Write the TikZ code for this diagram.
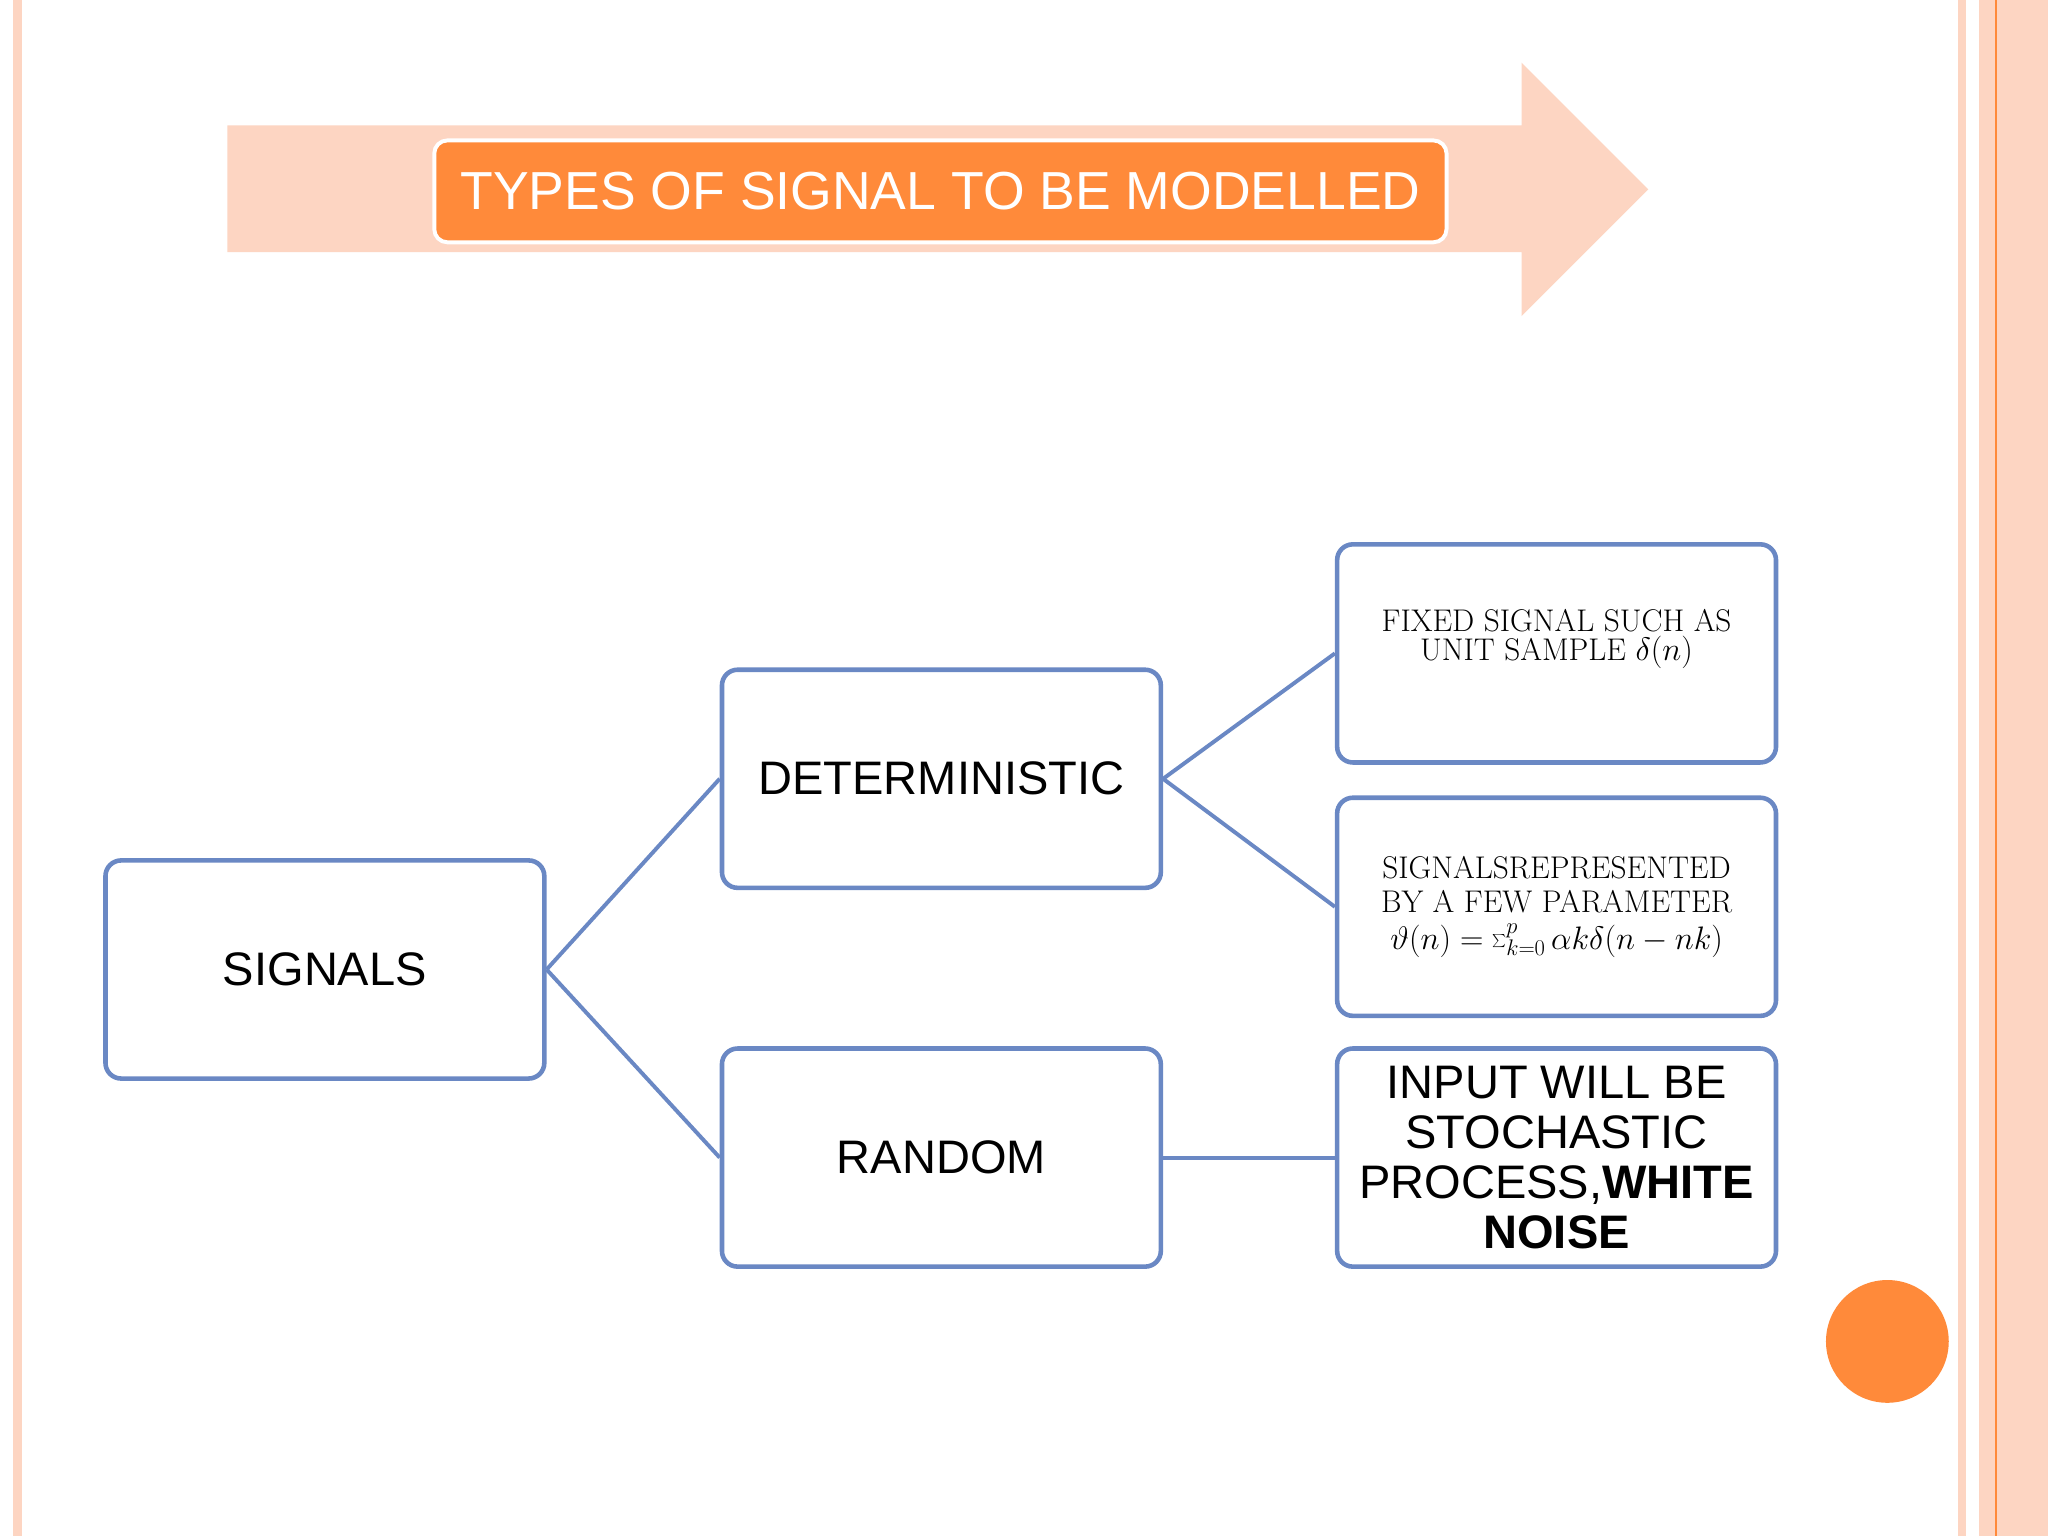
\documentclass[tikz,border=0pt]{standalone}
\usepackage{fontspec}
\setmainfont{Liberation Sans}
\newfontfamily\lmr{Latin Modern Roman}
\definecolor{peach}{HTML}{FDD5C2}
\definecolor{org}{HTML}{FF8A3A}
\definecolor{bl}{HTML}{6A88C4}
\begin{document}
\begin{tikzpicture}[x=1pt,y=-1pt,
  bx/.style={draw=bl,line width=3.5pt,rounded corners=12pt,fill=white,minimum width=336pt,minimum height=167pt,anchor=north west,inner sep=0pt,align=center},
  sx/.style={bx,font=\fontsize{36}{38}\selectfont},
  rx/.style={bx,font=\lmr\fontsize{24}{26}\selectfont},
  ln/.style={draw=bl,line width=3pt}]
\useasboundingbox (0,0) rectangle (1568,1176);
\fill[white] (0,0) rectangle (1568,1176);
\fill[peach] (10,0) rectangle (17,1176);
\fill[peach] (1499,0) rectangle (1505,1176);
\fill[peach] (1515,0) rectangle (1568,1176);
\draw[org,line width=1.2pt] (1528,0) -- (1528,1176);
\fill[peach] (174,96) -- (1165,96) -- (1165,48) -- (1262,145) -- (1165,242) -- (1165,193) -- (174,193) -- cycle;
\node[draw=white,line width=3pt,fill=org,rounded corners=10pt,minimum width=775pt,minimum height=78pt,anchor=north west,text=white,font=\fontsize{41}{43}\selectfont] (title) at (331,106) {TYPES OF SIGNAL TO BE MODELLED};
\node[sx] (sig) at (79,657) {SIGNALS};
\node[sx] (det) at (551,511) {DETERMINISTIC};
\node[sx] (ran) at (551,801) {RANDOM};
\node[rx] (fix) at (1022,415) {\raisebox{28pt}{\shortstack{FIXED SIGNAL SUCH AS\\UNIT SAMPLE $\delta(n)$}}};
\node[rx] (par) at (1022,609) {SIGNALSREPRESENTED\\BY A FEW PARAMETER\\[2pt] $\vartheta(n)=\sum_{k=0}^{p}\alpha k\delta(n-nk)$};
\node[sx,font=\fontsize{36}{38.5}\selectfont] (inp) at (1022,801) {INPUT WILL BE\\STOCHASTIC\\PROCESS,\textbf{WHITE}\\\textbf{NOISE}};
\draw[ln] (sig.east) -- (det.west);
\draw[ln] (sig.east) -- (ran.west);
\draw[ln] (det.east) -- (fix.west);
\draw[ln] (det.east) -- (par.west);
\draw[ln] (ran.east) -- (inp.west);
\fill[org] (1445,1027) circle (47);
\end{tikzpicture}
\end{document}
